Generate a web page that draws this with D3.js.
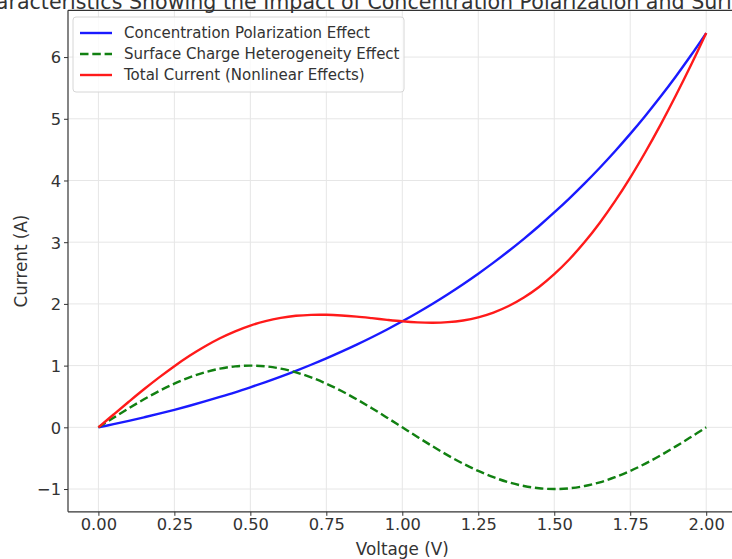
<!DOCTYPE html>
<html>
<head>
<meta charset="utf-8">
<script src="https://cdn.jsdelivr.net/npm/d3@7"></script>
<style>
  html, body { margin: 0; padding: 0; background: #fff; }
  svg { display: block; font-family: "DejaVu Sans", sans-serif; }
</style>
</head>
<body>
<svg id="chart" width="732" height="559"></svg>
<script>
const voltage = [0.00,0.05,0.10,0.15,0.20,0.25,0.30,0.35,0.40,0.45,0.50,0.55,0.60,0.65,0.70,0.75,0.80,0.85,0.90,0.95,1.00,
                 1.05,1.10,1.15,1.20,1.25,1.30,1.35,1.40,1.45,1.50,1.55,1.60,1.65,1.70,1.75,1.80,1.85,1.90,1.95,2.00];
const concentrationPolarization = [0.000,0.051,0.105,0.162,0.221,0.284,0.350,0.419,0.492,0.568,0.649,0.733,0.822,0.916,1.014,1.117,1.226,1.340,1.460,1.586,1.718,
                 1.858,2.004,2.158,2.320,2.490,2.669,2.857,3.055,3.263,3.482,3.711,3.953,4.207,4.474,4.755,5.050,5.360,5.686,6.029,6.389];
const surfaceCharge = [0.000,0.156,0.309,0.454,0.588,0.707,0.809,0.891,0.951,0.988,1.000,0.988,0.951,0.891,0.809,0.707,0.588,0.454,0.309,0.156,0.000,
                 -0.156,-0.309,-0.454,-0.588,-0.707,-0.809,-0.891,-0.951,-0.988,-1.000,-0.988,-0.951,-0.891,-0.809,-0.707,-0.588,-0.454,-0.309,-0.156,0.000];
const totalCurrent = [0.000,0.208,0.414,0.616,0.809,0.991,1.159,1.310,1.443,1.556,1.649,1.721,1.773,1.807,1.823,1.824,1.813,1.794,1.769,1.742,1.718,
                 1.701,1.695,1.704,1.732,1.783,1.860,1.966,2.104,2.275,2.482,2.724,3.002,3.316,3.665,4.047,4.462,4.906,5.377,5.872,6.389];
const xTicks = [0.00,0.25,0.50,0.75,1.00,1.25,1.50,1.75,2.00];
const yTicks = [-1,0,1,2,3,4,5,6];
const seriesNames = ["Concentration Polarization Effect","Surface Charge Heterogeneity Effect","Total Current (Nonlinear Effects)"];
const titleText = "Current-Voltage Characteristics Showing the Impact of Concentration Polarization and Surface Charge Heterogeneity";
const xLabel = "Voltage (V)";
const yLabel = "Current (A)";

const svg = d3.select("#chart");
const L = 68, R = 736.6, T = 10.3, B = 511.8;
const x = d3.scaleLinear().domain([-0.1, 2.1]).range([L, R]);
const y = d3.scaleLinear().domain([-1.369, 6.758]).range([B, T]);
const ink = "#333";

// grid
const grid = svg.append("g").attr("stroke", "#e6e6e6").attr("stroke-width", 1);
xTicks.forEach(t => grid.append("line").attr("x1", x(t)).attr("x2", x(t)).attr("y1", T).attr("y2", B));
yTicks.forEach(t => grid.append("line").attr("x1", L).attr("x2", R).attr("y1", y(t)).attr("y2", y(t)));

// lines
const series = [
  {vals: concentrationPolarization, color: "#1a1aff", dash: null},
  {vals: surfaceCharge, color: "#118011", dash: "8.5,3.8"},
  {vals: totalCurrent, color: "#ff1a1a", dash: null}
];
const line = d3.line().curve(d3.curveCatmullRom.alpha(0.5));
series.forEach(s => {
  svg.append("path")
    .attr("d", line(voltage.map((v, i) => [x(v), y(s.vals[i])])))
    .attr("fill", "none")
    .attr("stroke", s.color)
    .attr("stroke-width", 2.4)
    .attr("stroke-dasharray", s.dash);
});

// axes
const xAxis = d3.axisBottom(x).tickValues(xTicks).tickFormat(d3.format(".2f")).tickSizeOuter(0).tickSize(4).tickPadding(3);
const yAxis = d3.axisLeft(y).tickValues(yTicks).tickFormat(d3.format("d")).tickSizeOuter(0).tickSize(4).tickPadding(3);
const gx = svg.append("g").attr("transform", `translate(0,${B})`).call(xAxis);
const gy = svg.append("g").attr("transform", `translate(${L},0)`).call(yAxis);
[gx, gy].forEach(g => {
  g.select(".domain").remove();
  g.selectAll("text").attr("font-family", "DejaVu Sans").attr("font-size", 16.3).attr("fill", ink);
  g.selectAll("line").attr("stroke", ink).attr("stroke-width", 1);
});
gy.selectAll("text").attr("dy", "0.36em");
// spines
svg.append("line").attr("x1", L).attr("x2", L).attr("y1", T).attr("y2", B).attr("stroke", ink).attr("stroke-width", 1.2);
svg.append("line").attr("x1", L).attr("x2", R).attr("y1", B).attr("y2", B).attr("stroke", ink).attr("stroke-width", 1.2);
svg.append("line").attr("x1", L).attr("x2", R).attr("y1", T).attr("y2", T).attr("stroke", ink).attr("stroke-width", 1.2);

// labels
svg.append("text").attr("x", (L + R) / 2).attr("y", 555).attr("text-anchor", "middle")
  .attr("font-size", 16.8).attr("fill", ink).text(xLabel);
svg.append("text").attr("transform", `translate(27,${(T + B) / 2}) rotate(-90)`).attr("text-anchor", "middle")
  .attr("font-size", 16.8).attr("fill", ink).text(yLabel);
svg.append("text").attr("x", (L + R) / 2).attr("y", 8.5).attr("text-anchor", "middle")
  .attr("font-size", 20.6).attr("fill", ink).text(titleText);

// legend
const lg = svg.append("g");
lg.append("rect").attr("x", 73).attr("y", 17).attr("width", 331).attr("height", 75).attr("rx", 3)
  .attr("fill", "#fff").attr("fill-opacity", 0.8).attr("stroke", "#d6d6d6").attr("stroke-width", 1);
series.forEach((s, i) => {
  const yy = 33 + i * 21;
  lg.append("line").attr("x1", 80).attr("x2", 112).attr("y1", yy).attr("y2", yy)
    .attr("stroke", s.color).attr("stroke-width", 2.4).attr("stroke-dasharray", s.dash);
  lg.append("text").attr("x", 124).attr("y", yy).attr("dy", "0.36em").attr("font-size", 15).attr("fill", ink).text(seriesNames[i]);
});
</script>
</body>
</html>
